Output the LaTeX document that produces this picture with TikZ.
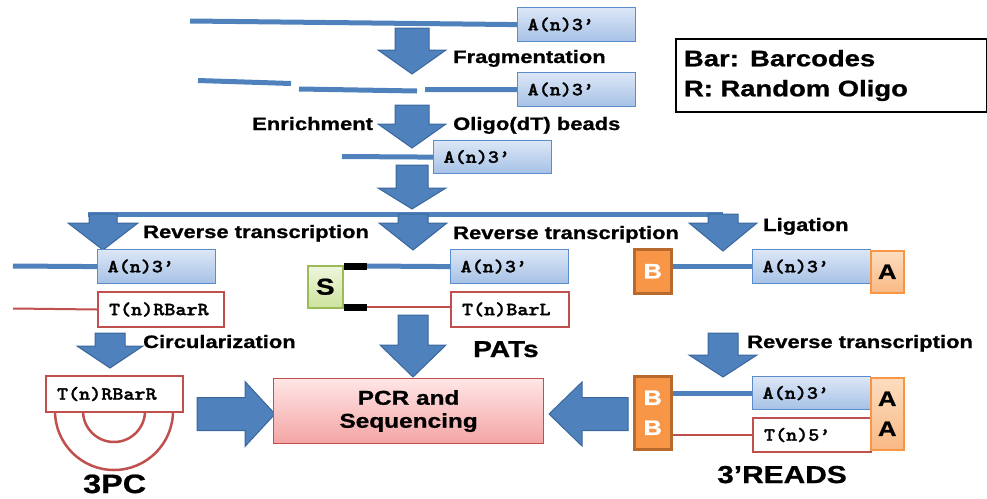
\documentclass[tikz,border=0pt]{standalone}
\usepackage{fontspec}
\setmainfont{Liberation Sans}[FakeStretch=1.22, BoldFeatures={FakeBold=0.9}]
\newfontfamily\monof{lmmonolt10-bold.otf}[FakeStretch=1.14, FakeBold=1.6]
\usetikzlibrary{calc}
\definecolor{ablue}{HTML}{4F81BD}
\definecolor{aedge}{HTML}{3B679C}
\definecolor{dred}{HTML}{C0504D}
\definecolor{boxtop}{HTML}{DCE7F6}
\definecolor{boxbot}{HTML}{A6C1E6}
\definecolor{bedge}{HTML}{5B8CCB}
\definecolor{orng}{HTML}{F79646}
\definecolor{orngedge}{HTML}{B8692C}
\definecolor{atop}{HTML}{FCDDBF}
\definecolor{abot}{HTML}{FAB985}
\definecolor{gtop}{HTML}{EFF6DE}
\definecolor{gbot}{HTML}{CDE39E}
\definecolor{gedge}{HTML}{9BBB59}
\definecolor{ptop}{HTML}{FFE6E6}
\definecolor{pbot}{HTML}{F4A4A4}
\newcommand\blkdown[6]{%
  \filldraw[blk] (#1-#5,#2) -- (#1+#5,#2) -- (#1+#5,#3) -- (#1+#6,#3) -- (#1,#4)
    -- (#1-#6,#3) -- (#1-#5,#3) -- cycle;}
\newcommand\blkhoriz[6]{%
  \filldraw[blk] (#2,#1-#5) -- (#3,#1-#5) -- (#3,#1-#6) -- (#4,#1) -- (#3,#1+#6)
    -- (#3,#1+#5) -- (#2,#1+#5) -- cycle;}
\tikzset{
  lab/.style={font=\bfseries\fontsize{18}{20}\selectfont, inner sep=0pt, anchor=base west},
  monotxt/.style={font=\monof\fontsize{18.5}{20}\selectfont},
  bluebox/.style={monotxt, draw=bedge, line width=1.2pt, top color=boxtop, bottom color=boxbot,
    anchor=north west, minimum height=34pt, text width=98pt, inner xsep=10pt, inner ysep=0pt, align=left},
  redbox/.style={monotxt, draw=dred, line width=2pt, fill=white,
    anchor=north west, minimum height=35pt, inner xsep=11pt, inner ysep=0pt, align=left},
  dnab/.style={draw=ablue, line width=5pt},
  dnar/.style={draw=dred, line width=2pt},
  blk/.style={fill=ablue, draw=aedge, line width=1pt, line join=miter},
  bbox/.style={fill=orng, draw=orngedge, line width=2.5pt, text=white, font=\bfseries\fontsize{21}{30}\selectfont,
    anchor=north west, inner sep=0pt, minimum width=37pt, align=center},
  abox/.style={top color=atop, bottom color=abot, draw=orng, line width=1.5pt, font=\bfseries\fontsize{21}{30}\selectfont,
    anchor=north west, inner sep=0pt, minimum width=33pt, align=center}
}
\begin{document}
\begin{tikzpicture}[x=1pt,y=-1pt]
\useasboundingbox (0,0) rectangle (987,498);
% boxes (placed first so lines can refer to them)
\node[bluebox] (b1) at (517,7) {A(n)3’};
\node[bluebox] (b2) at (517,72) {A(n)3’};
\node[bluebox, minimum height=33pt] (b3) at (433,140) {A(n)3’};
% coordinates
\coordinate (t0) at (190,21);
\coordinate (f1) at (198,80.5); \coordinate (f2) at (291,83.5);
\coordinate (f3) at (299,89);   \coordinate (f4) at (417,91);
\coordinate (f5) at (425,89.5);
\coordinate (e0) at (342,156.5);
\coordinate (h0) at (88,214); \coordinate (h1) at (723,214);
% top lines
\draw[dnab] (t0) -- (b1.west);
\draw[dnab] (f1) -- (f2);
\draw[dnab] (f3) -- (f4);
\draw[dnab] (f5) -- (b2.west);
\draw[dnab] (e0) -- (b3.west);
\draw[dnab] (h0) -- (h1);
% block arrows
\blkdown{412}{28}{50}{74}{17}{34}
\blkdown{412}{105}{124}{148}{17}{34}
\blkdown{412}{165}{188}{209}{16}{34}
\blkdown{103}{214}{223}{250}{14}{35}
\blkdown{413}{214}{223}{250}{15}{34}
\blkdown{723}{214}{223}{251}{15}{34}
\blkdown{110}{333}{346}{368}{15}{33}
\blkdown{413}{315}{345}{377}{15}{33}
\blkdown{723}{333}{355}{377}{15}{34}
\blkhoriz{414}{197}{245}{275}{16.5}{32.5}
\blkhoriz{414}{628}{582}{549}{16.5}{32}
% labels
\node[lab] (lfrag) at (453,63) {Fragmentation};
\node[lab] (lenr) at (252,130) {Enrichment};
\node[lab] (lolig) at (453,130) {Oligo(dT) beads};
\node[lab] (lrt1) at (143,238) {Reverse transcription};
\node[lab] (lrt2) at (453,239) {Reverse transcription};
\node[lab] (llig) at (763,231) {Ligation};
\node[lab] (lcirc) at (143,348) {Circularization};
\node[lab] (lrt3) at (747,348) {Reverse transcription};
\node[lab, font=\bfseries\fontsize{23}{25}\selectfont] (lpat) at (473,357) {PATs};
\node[lab, font=\bfseries\fontsize{24.5}{25}\selectfont] (lreads) at (717,483) {3’READS};
\node[lab, font=\bfseries\fontsize{26.5}{28}\selectfont] (l3pc) at (83,493) {3PC};
% left block
\node[bluebox] (b4) at (97,249) {A(n)3’};
\node[redbox, text width=104pt] (r1) at (97,291) {T(n)RBarR};
\coordinate (la) at (13,266); \coordinate (lb) at (13,308.5);
\draw[dnab] (la) -- (b4.west);
\draw[dnar] (lb) -- (r1.west);
\coordinate (cc) at (114,411);
\draw[dred, line width=2.5pt] ($(cc)+(-59,0)$) arc (180:0:59);
\draw[dred, line width=2.5pt] ($(cc)+(-31,0)$) arc (180:0:31);
\node[redbox, text width=115pt, minimum height=36pt] (r4) at (45,375) {T(n)RBarR};
% center block
\node[bluebox] (b5) at (450,249) {A(n)3’};
\node[redbox, text width=96pt] (r2) at (450,291) {T(n)BarL};
\node[top color=gtop, bottom color=gbot, draw=gedge, line width=1.5pt, anchor=north west, inner sep=0pt,
  minimum width=35pt, minimum height=42pt, font=\bfseries\fontsize{23}{25}\selectfont] (S) at (307,265) {S};
\coordinate (s1) at (367,266); \coordinate (s2) at (367,307);
\draw[dnab] (s1) -- (b5.west);
\draw[dnar] (s2) -- (r2.west |- s2);
\draw[black, line width=7pt] (s1 -| S.east) -- (s1);
\draw[black, line width=7pt] (s2 -| S.east) -- (s2);
% right block
\node[bluebox] (b6) at (752,249) {A(n)3’};
\node[bbox, minimum height=44pt] (B1) at (633,248) {B};
\node[abox, minimum height=42pt] (A1) at (870,250) {A};
\draw[dnab] (B1.east |- b6.west) -- (b6.west);
\node[bluebox, minimum height=33pt] (b7) at (752,376) {A(n)3’};
\node[redbox, text width=96pt, minimum height=34pt] (r3) at (752,417) {T(n)5’};
\node[bbox, minimum height=73pt] (B2) at (633,375) {B\\B};
\node[abox, minimum height=72pt] (A2) at (870,377) {A\\A};
\draw[dnab] (B2.east |- b7.west) -- (b7.west);
\draw[dnar] (B2.east |- r3.west) -- (r3.west);
% PCR
\node[top color=ptop, bottom color=pbot, draw=dred, line width=1.2pt, anchor=north west, inner sep=0pt,
  minimum width=270pt, minimum height=65pt, align=center, font=\bfseries\fontsize{20}{23}\selectfont] (pcr) at (273,378)
  {PCR and\\Sequencing};
% legend
\node[draw=black, line width=2pt, anchor=north west, text width=295pt, inner xsep=8pt, inner ysep=0pt,
  minimum height=73pt, align=left, font=\bfseries\fontsize{22.5}{30}\selectfont] (leg) at (675,38)
  {Bar: Barcodes\\R: Random Oligo};
\end{tikzpicture}
\end{document}
